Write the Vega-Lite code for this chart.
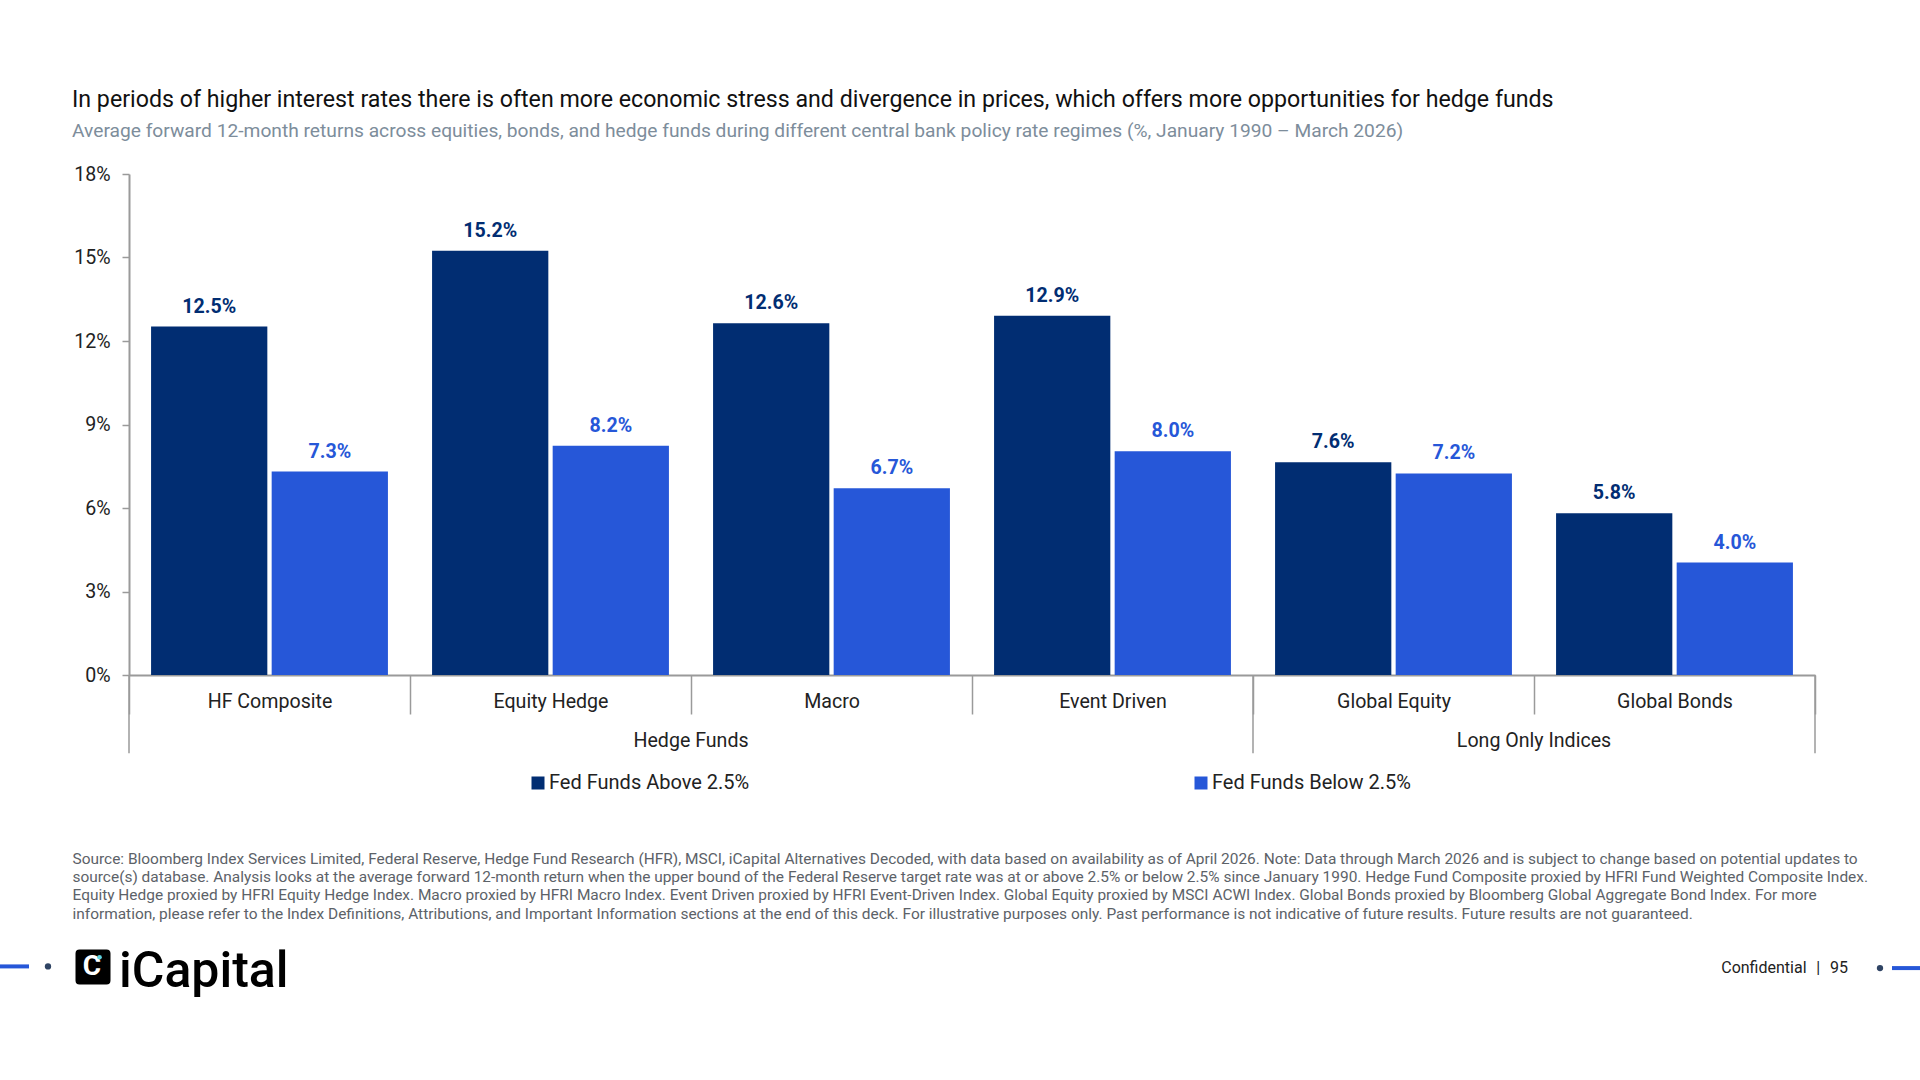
{
  "$schema": "https://vega.github.io/schema/vega-lite/v6.json",
  "autosize": "none",
  "width": 1686,
  "height": 501,
  "padding": {"left": 129, "top": 174, "right": 105, "bottom": 405},
  "background": "white",
  "title": {
    "text": "In periods of higher interest rates there is often more economic stress and divergence in prices, which offers more opportunities for hedge funds",
    "subtitle": "Average forward 12-month returns across equities, bonds, and hedge funds during different central bank policy rate regimes (%, January 1990 – March 2026)",
    "anchor": "start",
    "frame": "group",
    "dx": -57,
    "offset": 22,
    "font": "Roboto",
    "fontSize": 23.2,
    "fontWeight": 400,
    "color": "#111111",
    "subtitleFont": "Roboto",
    "subtitleFontSize": 19.2,
    "subtitleColor": "#7d8d9b",
    "subtitlePadding": 10
  },
  "config": {
    "view": {"stroke": null},
    "font": "Roboto"
  },
  "datasets": {
    "returns": [
      {"category": "HF Composite", "regime": "Fed Funds Above 2.5%", "value": 0.1252},
      {"category": "HF Composite", "regime": "Fed Funds Below 2.5%", "value": 0.0731},
      {"category": "Equity Hedge", "regime": "Fed Funds Above 2.5%", "value": 0.1524},
      {"category": "Equity Hedge", "regime": "Fed Funds Below 2.5%", "value": 0.0824},
      {"category": "Macro", "regime": "Fed Funds Above 2.5%", "value": 0.1264},
      {"category": "Macro", "regime": "Fed Funds Below 2.5%", "value": 0.0671},
      {"category": "Event Driven", "regime": "Fed Funds Above 2.5%", "value": 0.1291},
      {"category": "Event Driven", "regime": "Fed Funds Below 2.5%", "value": 0.0804},
      {"category": "Global Equity", "regime": "Fed Funds Above 2.5%", "value": 0.0764},
      {"category": "Global Equity", "regime": "Fed Funds Below 2.5%", "value": 0.0724},
      {"category": "Global Bonds", "regime": "Fed Funds Above 2.5%", "value": 0.0581},
      {"category": "Global Bonds", "regime": "Fed Funds Below 2.5%", "value": 0.0404}
    ],
    "groups": [
      {"group": "Hedge Funds", "category": "Equity Hedge"},
      {"group": "Long Only Indices", "category": "Global Equity"}
    ]
  },
  "layer": [
    {
      "data": {"name": "returns"},
      "mark": {"type": "bar"},
      "encoding": {
        "x": {
          "field": "category",
          "type": "nominal",
          "sort": null,
          "scale": {
            "domain": ["HF Composite", "Equity Hedge", "Macro", "Event Driven", "Global Equity", "Global Bonds"],
            "padding": 0
          },
          "axis": {
            "title": [
              "Source: Bloomberg Index Services Limited, Federal Reserve, Hedge Fund Research (HFR), MSCI, iCapital Alternatives Decoded, with data based on availability as of April 2026. Note: Data through March 2026 and is subject to change based on potential updates to",
              "source(s) database. Analysis looks at the average forward 12-month return when the upper bound of the Federal Reserve target rate was at or above 2.5% or below 2.5% since January 1990. Hedge Fund Composite proxied by HFRI Fund Weighted Composite Index.",
              "Equity Hedge proxied by HFRI Equity Hedge Index. Macro proxied by HFRI Macro Index. Event Driven proxied by HFRI Event-Driven Index. Global Equity proxied by MSCI ACWI Index. Global Bonds proxied by Bloomberg Global Aggregate Bond Index. For more",
              "information, please refer to the Index Definitions, Attributions, and Important Information sections at the end of this deck. For illustrative purposes only. Past performance is not indicative of future results. Future results are not guaranteed."
            ],
            "titleX": -57,
            "titleY": 188,
            "titleAlign": "left",
            "titleAnchor": "start",
            "titleBaseline": "alphabetic",
            "titleFont": "Roboto",
            "titleFontSize": 15.45,
            "titleFontWeight": 400,
            "titleColor": "#5c6268",
            "titleLineHeight": 18.4,
            "labelAngle": 0,
            "labelFont": "Roboto",
            "labelFontSize": 19.6,
            "labelColor": "#222222",
            "labelPadding": -13,
            "labelBaseline": "middle",
            "labelLimit": 300,
            "tickBand": "extent",
            "tickSize": 39,
            "tickColor": "#9a9a9a",
            "tickWidth": 1.5,
            "domainColor": "#9a9a9a",
            "domainWidth": 2
          }
        },
        "xOffset": {
          "field": "regime",
          "type": "nominal",
          "scale": {"paddingInner": 0.036, "paddingOuter": 0.183}
        },
        "y": {
          "field": "value",
          "type": "quantitative",
          "scale": {"domain": [0, 0.18], "nice": false},
          "axis": {
            "title": null,
            "values": [0, 0.03, 0.06, 0.09, 0.12, 0.15, 0.18],
            "format": ".0%",
            "grid": false,
            "labelFont": "Roboto",
            "labelFontSize": 19.6,
            "labelColor": "#222222",
            "labelPadding": 12,
            "tickSize": 7,
            "tickColor": "#9a9a9a",
            "tickWidth": 1.5,
            "domainColor": "#9a9a9a",
            "domainWidth": 2
          }
        },
        "color": {
          "field": "regime",
          "type": "nominal",
          "scale": {
            "domain": ["Fed Funds Above 2.5%", "Fed Funds Below 2.5%"],
            "range": ["#012d72", "#2657d8"]
          },
          "legend": {
            "title": null,
            "orient": "none",
            "legendX": 399,
            "legendY": 599,
            "direction": "horizontal",
            "columns": 2,
            "columnPadding": 441,
            "padding": 0,
            "symbolType": "square",
            "symbolSize": 169,
            "symbolStrokeWidth": 0,
            "labelFont": "Roboto",
            "labelFontSize": 20,
            "labelColor": "#222222",
            "labelOffset": 1,
            "labelLimit": 300
          }
        }
      }
    },
    {
      "data": {"name": "returns"},
      "mark": {"type": "text", "fontWeight": 700, "fontSize": 19.6, "baseline": "middle", "dy": -20},
      "encoding": {
        "x": {"field": "category", "type": "nominal", "sort": null},
        "xOffset": {"field": "regime", "type": "nominal"},
        "y": {"field": "value", "type": "quantitative"},
        "text": {"field": "value", "type": "quantitative", "format": ".1%"},
        "color": {"field": "regime", "type": "nominal", "legend": null}
      }
    },
    {
      "data": {"name": "groups"},
      "mark": {"type": "text", "fontSize": 19.6, "color": "#222222", "baseline": "middle"},
      "encoding": {
        "x": {"field": "category", "type": "nominal", "sort": null, "bandPosition": 1},
        "y": {"datum": -0.0238},
        "text": {"field": "group"}
      }
    },
    {
      "data": {"values": [{"category": "HF Composite"}, {"category": "Global Equity"}]},
      "mark": {"type": "rule", "color": "#9a9a9a", "strokeWidth": 1.5},
      "encoding": {
        "x": {"field": "category", "type": "nominal", "sort": null, "bandPosition": 0},
        "y": {"datum": 0},
        "y2": {"datum": -0.02815}
      }
    },
    {
      "data": {"values": [{"category": "Global Bonds"}]},
      "mark": {"type": "rule", "color": "#9a9a9a", "strokeWidth": 1.5},
      "encoding": {
        "x": {"field": "category", "type": "nominal", "sort": null, "bandPosition": 1},
        "y": {"datum": 0},
        "y2": {"datum": -0.02815}
      }
    },
    {
      "data": {"values": [{"category": "HF Composite"}]},
      "mark": {"type": "rule", "color": "#2657d8", "strokeWidth": 4, "xOffset": -129, "x2Offset": -100},
      "encoding": {
        "x": {"field": "category", "type": "nominal", "sort": null, "bandPosition": 0},
        "x2": {"field": "category", "bandPosition": 0},
        "y": {"datum": -0.1047}
      }
    },
    {
      "data": {"values": [{"category": "HF Composite"}]},
      "mark": {"type": "point", "shape": "circle", "filled": true, "size": 40, "color": "#2f4464", "opacity": 1, "xOffset": -81},
      "encoding": {
        "x": {"field": "category", "type": "nominal", "sort": null, "bandPosition": 0},
        "y": {"datum": -0.1047}
      }
    },
    {
      "data": {"values": [{"category": "HF Composite"}]},
      "mark": {"type": "point", "shape": "square", "filled": true, "size": 729, "color": "#000000", "stroke": "#000000", "strokeWidth": 8, "strokeJoin": "round", "opacity": 1, "xOffset": -36},
      "encoding": {
        "x": {"field": "category", "type": "nominal", "sort": null, "bandPosition": 0},
        "y": {"datum": -0.1049}
      }
    },
    {
      "data": {"values": [{"category": "HF Composite", "label": "C"}]},
      "mark": {"type": "text", "fontSize": 28, "fontWeight": 700, "color": "#ffffff", "baseline": "middle", "dx": -37},
      "encoding": {
        "x": {"field": "category", "type": "nominal", "sort": null, "bandPosition": 0},
        "y": {"datum": -0.1049},
        "text": {"field": "label"}
      }
    },
    {
      "data": {"values": [{"category": "HF Composite"}]},
      "mark": {"type": "point", "shape": "circle", "filled": true, "size": 22, "color": "#5fd3e0", "opacity": 1, "xOffset": -29.5},
      "encoding": {
        "x": {"field": "category", "type": "nominal", "sort": null, "bandPosition": 0},
        "y": {"datum": -0.1014}
      }
    },
    {
      "data": {"values": [{"category": "HF Composite", "label": "iCapital"}]},
      "mark": {"type": "text", "fontSize": 50, "fontWeight": 500, "color": "#000000", "align": "left", "baseline": "middle", "dx": -10, "dy": 5},
      "encoding": {
        "x": {"field": "category", "type": "nominal", "sort": null, "bandPosition": 0},
        "y": {"datum": -0.1049},
        "text": {"field": "label"}
      }
    },
    {
      "data": {"values": [{"category": "Global Bonds", "label": "Confidential\u2002\u200a|\u2002\u200a95"}]},
      "mark": {"type": "text", "fontSize": 16, "color": "#222222", "align": "right", "baseline": "middle", "dx": 33},
      "encoding": {
        "x": {"field": "category", "type": "nominal", "sort": null, "bandPosition": 1},
        "y": {"datum": -0.1053},
        "text": {"field": "label"}
      }
    },
    {
      "data": {"values": [{"category": "Global Bonds"}]},
      "mark": {"type": "point", "shape": "circle", "filled": true, "size": 40, "color": "#2f4464", "opacity": 1, "xOffset": 65},
      "encoding": {
        "x": {"field": "category", "type": "nominal", "sort": null, "bandPosition": 1},
        "y": {"datum": -0.1053}
      }
    },
    {
      "data": {"values": [{"category": "Global Bonds"}]},
      "mark": {"type": "rule", "color": "#2657d8", "strokeWidth": 4, "xOffset": 77, "x2Offset": 105},
      "encoding": {
        "x": {"field": "category", "type": "nominal", "sort": null, "bandPosition": 1},
        "x2": {"field": "category", "bandPosition": 1},
        "y": {"datum": -0.1053}
      }
    }
  ]
}
